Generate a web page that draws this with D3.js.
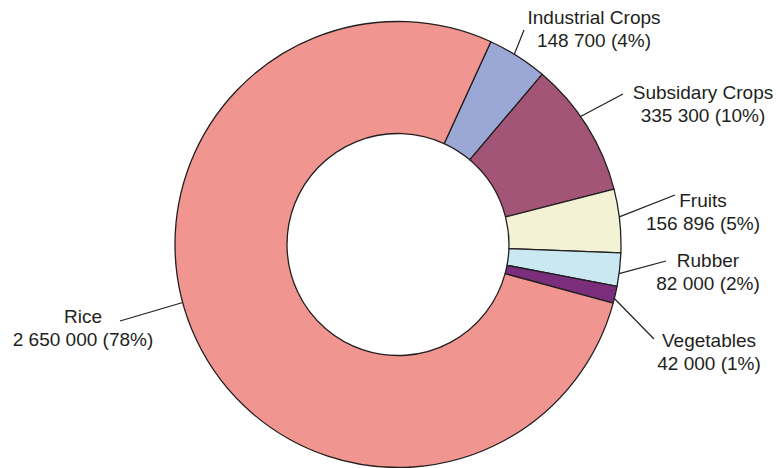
<!DOCTYPE html>
<html>
<head>
<meta charset="utf-8">
<script src="https://cdn.jsdelivr.net/npm/d3@7"></script>
<style>
  html, body { margin: 0; padding: 0; background: #fff; }
  svg { display: block; }
  text { font-family: "Liberation Sans", Arial, Helvetica, sans-serif; fill: #231f20; }
</style>
</head>
<body>
<svg id="chart" width="776" height="468"></svg>
<script>
// ---- data ----
const categories = ["Industrial Crops", "Subsidary Crops", "Fruits", "Rubber", "Vegetables", "Rice"];
const values = [148700, 335300, 156896, 82000, 42000, 2650000];
const valueLabels = ["148 700", "335 300", "156 896", "82 000", "42 000", "2 650 000"];
const percentLabels = ["4%", "10%", "5%", "2%", "1%", "78%"];
const colors = ["#9ba7d4", "#a25576", "#f4f2d4", "#c9e8f2", "#7b2e7b", "#f0958f"];

// ---- layout (label placement) ----
const cx = 398, cy = 244.5, outerR = 223, innerR = 111;
const startDeg = 24.6;
const labelLayout = [
  { x: 594, y: 24, lx: 524, ly: 30, angOff: -1 },
  { x: 703, y: 99, lx: 623, ly: 94, angOff: -3 },
  { x: 703, y: 207, lx: 675, ly: 195, angOff: -1 },
  { x: 708, y: 267, lx: 666, ly: 261, angOff: 1 },
  { x: 709, y: 347, lx: 654, ly: 339, angOff: 1 },
  { x: 83, y: 323, lx: 120, ly: 321, angOff: 10 }
];

const svg = d3.select("#chart");
const g = svg.append("g").attr("transform", `translate(${cx},${cy})`);

const data = categories.map((c, i) => ({ name: c, value: values[i], i }));
const toRad = d => d * Math.PI / 180;

const pie = d3.pie().value(d => d.value).sort(null)
  .startAngle(toRad(startDeg)).endAngle(toRad(startDeg) + 2 * Math.PI);
const arcs = pie(data);
const arc = d3.arc().innerRadius(innerR).outerRadius(outerR);

g.selectAll("path.slice").data(arcs).enter().append("path")
  .attr("class", "slice")
  .attr("d", arc)
  .attr("fill", d => colors[d.data.i])
  .attr("stroke", "#231f20")
  .attr("stroke-width", 1.3)
  .attr("stroke-linejoin", "round");

// leader lines
arcs.forEach(d => {
  const L = labelLayout[d.data.i];
  const a = (d.startAngle + d.endAngle) / 2 + toRad(L.angOff);
  const sx = cx + outerR * Math.sin(a), sy = cy - outerR * Math.cos(a);
  svg.append("line")
    .attr("x1", sx).attr("y1", sy)
    .attr("x2", L.lx).attr("y2", L.ly)
    .attr("stroke", "#231f20").attr("stroke-width", 1.2);
});

// labels
arcs.forEach(d => {
  const i = d.data.i, L = labelLayout[i];
  const t = svg.append("text")
    .attr("x", L.x).attr("y", L.y)
    .attr("text-anchor", "middle")
    .attr("font-size", 19);
  t.append("tspan").attr("x", L.x).text(categories[i]);
  t.append("tspan").attr("x", L.x).attr("dy", 23)
    .text(`${valueLabels[i]} (${percentLabels[i]})`);
});
</script>
</body>
</html>
